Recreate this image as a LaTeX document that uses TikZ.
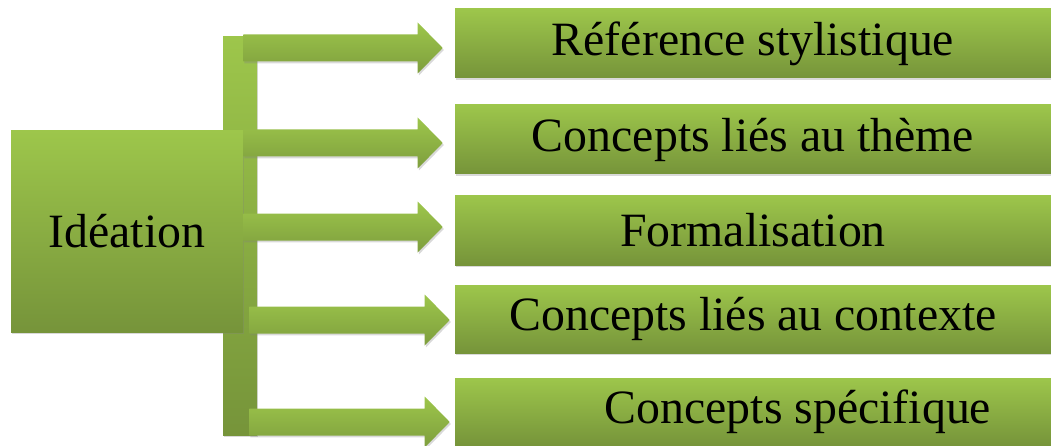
\documentclass[tikz,border=0pt]{standalone}
\usepackage{fontspec}
\setmainfont{Liberation Serif}
\usetikzlibrary{calc,shadows}

\definecolor{leafTop}{HTML}{9DC64B}
\definecolor{leafBot}{HTML}{76943A}
\newcommand{\px}{0.025cm}

% fat shaded arrow from #1 (tail) to #2 (tip)
\newcommand{\fatarrow}[2]{%
  \path[arrowbody] ($(#1)+(0,-13.5)$) -- ($(#2)+(-25,-13.5)$) -- ($(#2)+(-25,-25.5)$)
    -- (#2) -- ($(#2)+(-25,25.5)$) -- ($(#2)+(-25,13.5)$) -- ($(#1)+(0,13.5)$) -- cycle;}

\begin{document}
\begin{tikzpicture}[x=0.025cm,y=-0.025cm,
  greenbox/.style={top color=leafTop,bottom color=leafBot,inner sep=0pt,
    font=\fontsize{34}{40}\selectfont,
    drop shadow={shadow xshift=0.8pt,shadow yshift=-1.4pt,opacity=0.3}},
  arrowbody/.style={top color=leafTop,bottom color=leafBot!80!leafTop,
    drop shadow={shadow xshift=0.8pt,shadow yshift=-1.4pt,opacity=0.3}}]
  \useasboundingbox (0,0) rectangle (1051,446);
  \node[greenbox,minimum width=34*\px,minimum height=398*\px] (bar) at (240,236) {};
  \node[greenbox,minimum width=232*\px,minimum height=201*\px] (idea) at (127,231.5) {Idéation};
  \foreach \n/\y/\h/\txt in {1/43.5/69/Référence stylistique,
                             2/139.5/69/Concepts liés au thème,
                             3/230/70/Formalisation,
                             4/319/68/Concepts liés au contexte,
                             5/412/68/\hspace*{2.25cm}Concepts spécifique}
    \node[greenbox,minimum width=596*\px,minimum height=\h*\px] (r\n) at (753,\y) {\txt};
  \foreach \n/\dy/\sx/\g in {1/4.5/0/12,2/3.5/0/12,3/-3/0/12,4/1/6/5,5/10/6/5}{
    \coordinate (s\n) at ($(idea.east|-r\n.west)+(\sx,\dy)$);
    \coordinate (t\n) at ($(r\n.west)+(-\g,\dy)$);
    \fatarrow{s\n}{t\n}
  }
\end{tikzpicture}
\end{document}
